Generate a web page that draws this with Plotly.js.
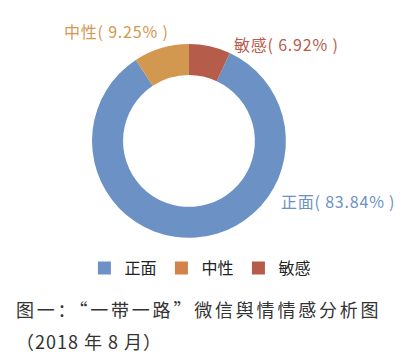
<!DOCTYPE html>
<html>
<head>
<meta charset="utf-8">
<script src="https://cdn.plot.ly/plotly-3.0.1.min.js"></script>
<style>html,body{margin:0;padding:0;background:#fff;}#chart{width:409px;height:360px;}</style>
</head>
<body>
<div id="chart"></div>
<script>
var categories = ['正面', '中性', '敏感'];
var shares = [83.84, 9.25, 6.92];
var sliceColors = ['#6c91c5', '#d39850', '#b65c4a'];
var legendColors = ['#6c91c5', '#d4824a', '#b65c4a'];
var captionLine1 = '图一：“一带一路”微信舆情情感分析图';
var captionLine2 = '（2018 年 8 月）';

var cjk = '"Noto Sans CJK SC", "Noto Sans", sans-serif';

var traces = [{
  type: 'pie',
  labels: categories,
  values: shares,
  sort: false,
  direction: 'clockwise',
  rotation: shares[2] / 100 * 360,
  hole: 0.68,
  textinfo: 'none',
  marker: {colors: sliceColors, line: {width: 0}},
  domain: {x: [0.225, 0.699], y: [0.339, 0.878]},
  showlegend: false,
  hoverinfo: 'none'
}];
categories.forEach(function (c, i) {
  traces.push({
    type: 'scatter', x: [null], y: [null], mode: 'markers', name: c,
    marker: {symbol: 'square', size: 13, color: legendColors[i]},
    showlegend: true, hoverinfo: 'none'
  });
});

var labelPos = [
  {x: 279, y: 201},
  {x: 62, y: 31},
  {x: 232, y: 44}
];
var annotations = categories.map(function (c, i) {
  return {
    text: '<span style="letter-spacing:0.8px">' + c + '( ' + shares[i].toFixed(2) + '% )</span>',
    xref: 'paper', yref: 'paper',
    x: labelPos[i].x / 409, y: 1 - labelPos[i].y / 360,
    xanchor: 'left', yanchor: 'middle',
    showarrow: false,
    font: {family: cjk, size: 16, color: sliceColors[i]}
  };
});
annotations.push({
  text: '<span style="letter-spacing:2.8px">' + captionLine1 + '</span>',
  xref: 'paper', yref: 'paper', x: 14 / 409, y: 1 - 309 / 360,
  xanchor: 'left', yanchor: 'middle', showarrow: false,
  font: {family: cjk, size: 18, color: '#333333'}
});
annotations.push({
  text: '<span style="letter-spacing:1px">' + captionLine2 + '</span>',
  xref: 'paper', yref: 'paper', x: 14 / 409, y: 1 - 341 / 360,
  xanchor: 'left', yanchor: 'middle', showarrow: false,
  font: {family: cjk, size: 18, color: '#333333'}
});

var layout = {
  width: 409, height: 360,
  margin: {l: 0, r: 0, t: 0, b: 0},
  paper_bgcolor: '#ffffff', plot_bgcolor: '#ffffff',
  xaxis: {visible: false, domain: [0, 0.01]},
  yaxis: {visible: false, domain: [0, 0.01]},
  showlegend: true,
  legend: {
    orientation: 'h', x: 0.49, xanchor: 'center', y: 1 - 268 / 360, yanchor: 'middle',
    font: {family: cjk, size: 16, color: '#222222'},
    itemwidth: 30, bgcolor: 'rgba(0,0,0,0)'
  },
  annotations: annotations
};

Plotly.newPlot('chart', traces, layout, {displayModeBar: false, staticPlot: true});
</script>
</body>
</html>
